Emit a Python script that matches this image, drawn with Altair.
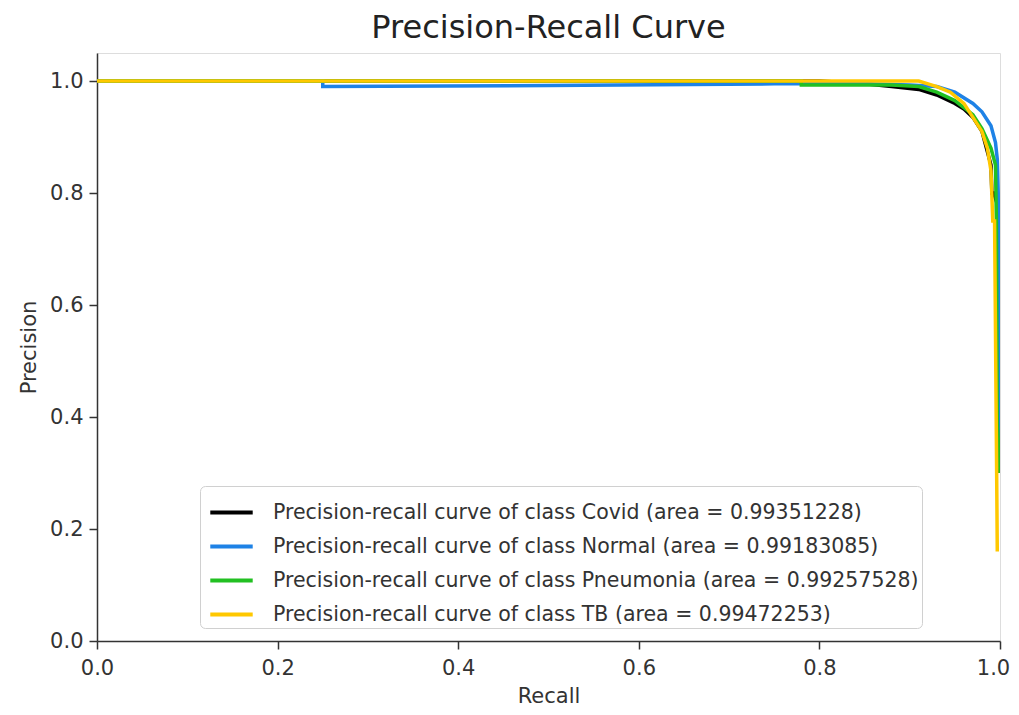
import altair as alt
import pandas as pd

classes = ["Covid", "Normal", "Pneumonia", "TB"]
areas = ["0.99351228", "0.99183085", "0.99257528", "0.99472253"]
colors = ["#000000", "#1e82e6", "#22c022", "#ffc800"]

covid_recall = [0.0, 0.80, 0.85, 0.88, 0.91, 0.93, 0.95, 0.96, 0.97, 0.98, 0.985, 0.99, 0.991, 0.993, 0.997, 1.0]
covid_prec = [1.0, 1.0, 0.995, 0.99, 0.985, 0.975, 0.96, 0.95, 0.935, 0.91, 0.88, 0.85, 0.80, 0.80, 0.78, 0.30]

normal_recall = [0.0, 0.25, 0.25, 0.5, 0.75, 0.85, 0.9, 0.93, 0.95, 0.97, 0.98, 0.99, 0.995, 0.997, 0.998, 1.0]
normal_prec = [1.0, 1.0, 0.99, 0.992, 0.995, 0.995, 0.993, 0.99, 0.98, 0.96, 0.945, 0.92, 0.89, 0.86, 0.80, 0.35]

pneu_recall = [0.0, 0.78, 0.78, 0.88, 0.91, 0.93, 0.95, 0.97, 0.98, 0.99, 0.995, 0.996, 0.997, 1.0]
pneu_prec = [1.0, 1.0, 0.993, 0.993, 0.99, 0.98, 0.965, 0.94, 0.915, 0.88, 0.85, 0.75, 0.39, 0.30]

tb_recall = [0.0, 0.91, 0.93, 0.945, 0.96, 0.97, 0.98, 0.986, 0.99, 0.992, 0.994, 0.997]
tb_prec = [1.0, 1.0, 0.99, 0.98, 0.96, 0.935, 0.91, 0.88, 0.84, 0.75, 0.75, 0.16]

series = [(covid_recall, covid_prec), (normal_recall, normal_prec),
          (pneu_recall, pneu_prec), (tb_recall, tb_prec)]

rows = []
for k, (cls, area, (rr, pp)) in enumerate(zip(classes, areas, series)):
    label = f"Precision-recall curve of class {cls} (area = {area})"
    for i, (r, p) in enumerate(zip(rr, pp)):
        rows.append({"label": label, "recall": r, "precision": p, "idx": i, "k": k})
df = pd.DataFrame(rows)
labels = [f"Precision-recall curve of class {c} (area = {a})" for c, a in zip(classes, areas)]

FONT = "DejaVu Sans"
ticks = [0.0, 0.2, 0.4, 0.6, 0.8, 1.0]
axis_common = dict(values=ticks, format=".1f", grid=False, labelFlush=False,
                   domainColor="#333", tickColor="#333", tickSize=8, tickWidth=1.5,
                   domainWidth=1.5, labelFontSize=21, titleFontSize=21,
                   labelColor="#333", titleColor="#333", titleFontWeight="normal",
                   labelFont=FONT, titleFont=FONT)

chart = alt.Chart(df).mark_line(strokeWidth=3.5, clip=True).encode(
    x=alt.X("recall:Q", scale=alt.Scale(domain=[0, 1], nice=False, zero=False),
            axis=alt.Axis(title="Recall", titlePadding=7, labelPadding=8,
                          labelOffset={"condition": {"test": "datum.value >= 1", "value": -7},
                                       "value": 0},
                          **axis_common)),
    y=alt.Y("precision:Q", scale=alt.Scale(domain=[0, 1.05], nice=False),
            axis=alt.Axis(title="Precision", titlePadding=10, labelPadding=6,
                          **axis_common)),
    color=alt.Color("label:N", sort=labels,
                    scale=alt.Scale(domain=labels, range=colors),
                    legend=alt.Legend(title=None, orient="none", legendX=103, legendY=433,
                                      symbolType="stroke", symbolSize=1800,
                                      symbolStrokeWidth=4, labelFontSize=20.5,
                                      labelFont=FONT, labelColor="#333", labelOffset=18,
                                      symbolOffset=5,
                                      strokeColor="#d0d0d0", cornerRadius=5, padding=3,
                                      rowPadding=0, fillColor="white",
                                      labelLimit=900)),
    order=alt.Order("idx:Q"),
    detail="label:N",
).properties(
    width=903, height=588,
    padding={"left": 10, "top": 4, "right": 0, "bottom": 0},
    title=alt.TitleParams("Precision-Recall Curve", fontSize=32, font=FONT,
                          fontWeight="normal", color="#222", offset=8),
).configure_view(stroke="#333", strokeWidth=1.5).configure(background="white")

chart.save("out.html", embed_options={"renderer": "svg", "actions": False})
